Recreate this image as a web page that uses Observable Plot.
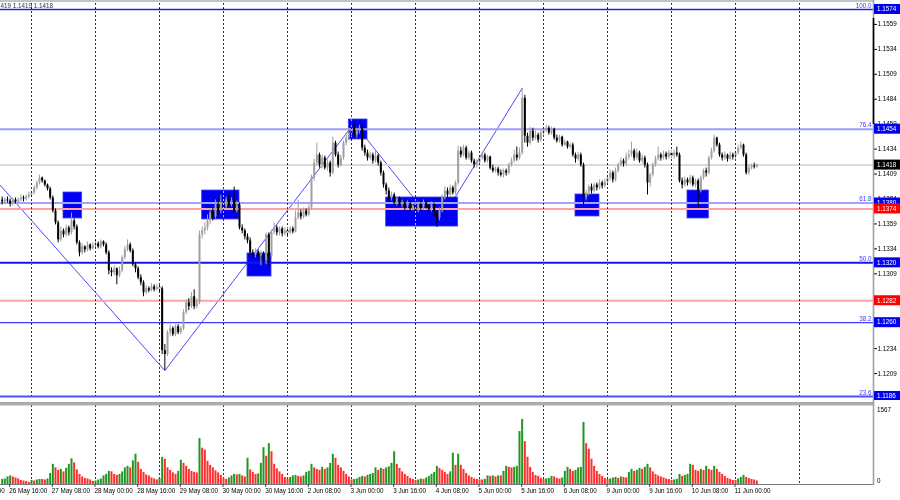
<!DOCTYPE html>
<html>
<head>
<meta charset="utf-8">
<script src="https://cdn.jsdelivr.net/npm/d3@7"></script>
<script src="https://cdn.jsdelivr.net/npm/@observablehq/plot@0.6"></script>
<style>
html,body{margin:0;padding:0;background:#fff;}
#wrap{width:900px;height:500px;position:relative;overflow:hidden;background:#fff;}
#wrap svg{display:block;}
</style>
</head>
<body>
<div id="wrap"></div>
<script>
// ================= DATA =================
// H1 bars, index k counted from 27 May 00:00 (k = 0); first visible bar = 26 May 13:00
const firstBar = -11;
// prices in pips above 1.1000 (e.g. 381 = 1.1381)
const opens = [
383,381,383,382,379,383,381,383,385,384,386,
388,390,395,400,405,402,398,394,385,372,360,343,352,348,355,350,362,356,340,330,336,333,338,334,
337,339,336,341,338,330,312,310,314,307,312,325,333,338,332,318,314,305,300,290,294,292,296,293,
295,294,232,228,250,254,248,256,250,254,270,280,276,286,276,280,348,352,355,362,370,366,378,372,
380,376,383,378,382,372,378,355,352,346,342,330,328,331,327,329,322,348,326,351,355,350,354,349,
352,350,354,351,365,370,366,372,368,375,405,420,428,418,425,415,420,410,440,428,418,425,440,445,
450,455,448,452,455,435,430,425,428,422,427,420,410,398,392,385,388,380,384,378,380,376,379,374,
377,372,378,375,380,376,373,378,370,365,372,385,392,388,395,390,400,432,428,435,425,430,422,418,
420,425,428,422,426,415,412,414,410,408,412,410,418,422,428,425,430,485,447,440,452,445,448,443,
450,453,455,450,454,445,442,446,438,441,436,438,428,424,428,418,385,390,396,392,398,395,400,397,
401,405,410,403,412,418,422,419,426,428,432,425,430,422,425,418,400,408,418,424,428,425,429,426,
430,427,430,428,402,398,403,400,405,398,402,392,405,412,410,425,432,445,438,428,425,428,424,428,
426,430,435,438,428,410,415,417,416];
const highs = [
386,385,386,384,385,385,385,388,387,388,391,
392,397,402,408,406,403,399,396,387,374,362,356,354,358,357,370,364,358,342,339,337,341,339,340,
342,341,343,342,340,332,315,317,315,316,327,336,343,340,334,320,316,308,302,297,296,299,298,298,
297,296,238,252,258,256,258,258,256,273,283,284,290,293,284,352,356,360,368,374,375,383,384,388,
384,386,388,385,396,382,380,358,354,349,345,333,334,333,332,331,350,350,353,360,357,356,356,355,
355,356,356,372,383,373,375,374,378,408,424,440,430,428,427,423,422,446,442,431,428,442,448,455,
460,461,455,458,457,438,433,431,430,433,429,422,412,400,395,391,390,386,386,383,382,382,381,380,
379,381,380,383,382,378,381,380,372,375,388,396,395,398,397,402,437,436,438,437,432,432,424,423,
427,431,430,428,427,418,416,416,413,414,414,420,425,433,436,435,495,488,450,456,455,452,450,453,
456,458,457,456,455,448,448,447,443,442,440,440,430,431,430,420,393,398,399,400,400,403,402,404,
408,413,412,415,420,425,424,430,433,441,434,434,432,428,427,420,410,420,427,436,430,432,431,433,
432,433,436,430,405,406,405,408,407,404,404,407,414,415,427,435,448,446,440,430,431,429,431,430,
432,438,441,439,430,418,419,420,419];
const lows = [
378,379,380,376,377,379,380,381,381,382,384,
386,388,393,398,400,396,392,383,370,358,340,341,345,346,347,348,353,338,326,328,330,331,332,333,
335,334,334,336,328,308,306,307,298,305,310,323,331,330,316,310,303,297,286,288,290,291,291,292,
291,228,212,226,246,246,246,248,248,252,268,272,274,273,274,278,344,348,352,358,362,364,368,369,
372,374,375,376,370,370,353,349,343,339,328,324,325,324,317,318,318,316,324,348,347,347,346,347,
347,348,349,350,363,363,364,366,366,373,402,417,415,414,413,412,406,408,426,415,416,423,437,442,
447,446,445,449,432,427,422,423,419,420,417,407,395,388,382,382,378,377,376,375,372,374,371,372,
369,370,372,373,374,370,371,366,356,362,370,383,385,386,388,388,398,425,426,423,423,420,415,415,
418,423,420,420,413,410,410,407,406,405,407,408,416,420,422,423,428,440,436,438,442,443,440,441,
448,451,448,448,443,440,440,436,437,434,434,426,420,422,416,376,382,387,389,390,392,393,394,395,
398,402,400,401,410,416,416,417,423,426,422,423,420,419,415,388,396,406,416,422,422,423,423,424,
425,424,426,400,394,396,397,398,396,395,375,390,403,406,408,423,430,436,426,422,423,421,422,423,
424,428,433,426,408,408,413,414,415];
const closes = [
381,383,382,379,383,381,383,385,384,386,388,
390,395,400,405,402,398,394,385,372,360,343,352,348,355,350,362,356,340,330,336,333,338,334,337,
339,336,341,338,330,312,310,314,307,312,325,333,338,332,318,314,305,300,290,294,292,296,293,295,
294,232,228,250,254,248,256,250,254,270,280,276,286,276,280,348,352,355,362,370,366,378,372,380,
376,383,378,382,372,378,355,352,346,342,330,328,331,327,329,322,348,326,351,355,350,354,349,352,
350,354,351,365,370,366,372,368,375,405,420,428,418,425,415,420,410,440,428,418,425,440,445,450,
455,448,452,455,435,430,425,428,422,427,420,410,398,392,385,388,380,384,378,380,376,379,374,377,
372,378,375,380,376,373,378,370,365,372,385,392,388,395,390,400,432,428,435,425,430,422,418,420,
425,428,422,426,415,412,414,410,408,412,410,418,422,428,425,430,485,447,440,452,445,448,443,450,
453,455,450,454,445,442,446,438,441,436,438,428,424,428,418,385,390,396,392,398,395,400,397,401,
405,410,403,412,418,422,419,426,428,432,425,430,422,425,418,400,408,418,424,428,425,429,426,430,
427,430,428,402,398,403,400,405,398,402,392,405,412,410,425,432,445,438,428,425,428,424,428,426,
430,435,438,428,410,415,417,416,418];
// tick volumes
const volumes = [
100,110,150,170,150,130,110,80,70,60,40,
80,70,90,100,100,90,110,220,400,330,280,300,250,320,400,510,430,290,200,150,120,110,90,60,
70,90,110,170,200,260,250,200,180,200,250,330,360,330,470,600,440,300,240,190,170,130,110,90,
120,540,500,330,280,230,200,260,480,420,360,300,260,240,230,910,720,680,460,380,330,270,230,180,
120,100,130,170,200,190,200,170,150,520,290,240,200,210,420,730,560,810,650,400,310,250,200,140,
110,140,170,180,160,150,170,240,260,400,330,300,280,340,300,330,420,600,520,380,330,260,200,150,
90,100,110,140,160,150,180,200,220,330,280,320,300,330,350,420,650,400,320,250,200,160,120,100,
80,90,110,100,130,160,200,240,360,320,280,240,200,250,620,380,600,380,300,220,170,140,110,100,
90,90,100,170,160,170,150,170,170,260,360,340,330,340,360,1050,1290,850,540,340,240,180,160,120,
100,110,120,160,150,120,110,130,260,340,300,260,280,330,340,1230,810,700,500,360,260,200,160,120,
100,110,130,140,120,150,140,130,240,300,260,280,320,300,340,400,330,250,200,170,150,130,110,100,
80,90,100,200,160,180,200,400,380,280,260,300,280,360,300,280,360,300,240,200,160,120,100,80,
80,110,140,180,140,120,100,90,70];

// daily period separators (bar index of each midnight)
const separatorK = [0,24,48,72,96,120,144,168,192,216,240,264,288];
// time axis labels
const timeLabelK = [-24,-8,8,24,40,56,72,88,104,120,136,152,168,184,200,216,232,248,264];
const timeLabels = ["26 May 00:00","26 May 16:00","27 May 08:00","28 May 00:00","28 May 16:00","29 May 08:00",
  "30 May 00:00","30 May 16:00","2 Jun 08:00","3 Jun 00:00","3 Jun 16:00","4 Jun 08:00","5 Jun 00:00",
  "5 Jun 16:00","6 Jun 08:00","9 Jun 00:00","9 Jun 16:00","10 Jun 08:00","11 Jun 00:00"];
// price axis ticks
const priceTicks = [1.1559,1.1534,1.1509,1.1484,1.1459,1.1434,1.1409,1.1384,1.1359,1.1334,1.1309,1.1284,1.1259,1.1234,1.1209,1.1184];
// fibonacci levels
const fibPrices = [1.1574,1.1454,1.1380,1.1320,1.1260,1.1186];
const fibNames  = ["100.0","76.4","61.8","50.0","38.2","23.6"];
// other horizontal levels
const redLevels = [1.1374,1.1282];
const lastPrice = 1.1418;
const headerText = "1.1419 1.1419 1.1419 1.1418";
// zigzag trend lines (bar index, price)
const zigK = [-12,50,121,152,184];
const zigP = [1.13985,1.1212,1.1460,1.1356,1.1495];
// blue zones (bar index from-to, price top-bottom)
const zoneK1 = [12,64,81,119,133,204,246];
const zoneK2 = [19,78,90,126,160,213,254];
const zoneP1 = [1.13905,1.13925,1.13294,1.14637,1.13855,1.13885,1.13925];
const zoneP2 = [1.13645,1.13635,1.13063,1.14437,1.13564,1.13665,1.13645];
const volMax = 1567;

// ================= BUILD =================
const P = v => 1.1 + v / 10000;
const bars = opens.map((o, i) => {
  const O = P(o), C = P(closes[i]);
  return {k: firstBar + i, o: O, c: C,
    h: Math.max(P(highs[i]), O, C), l: Math.min(P(lows[i]), O, C),
    up: closes[i] >= o, v: volumes[i],
    vup: i === 0 ? true : volumes[i] > volumes[i - 1]};
});
const zig = zigK.map((k, i) => ({k, p: zigP[i]}));
const zones = zoneK1.map((k, i) => ({k1: k, k2: zoneK2[i], p1: zoneP1[i], p2: zoneP2[i]}));
const xLab = timeLabelK.map((k, i) => ({k, t: timeLabels[i]}));
const fibs = fibPrices.map((p, i) => ({p, t: fibNames[i]}));

const FONT = '"Liberation Sans", Arial, sans-serif';
const FS = 6.3;
const xDomain = [-11.625, 315.75];
const bull = "#a0a0a0", bear = "#000000";
const gridOpts = {stroke: "#c8c8c8", strokeWidth: 1, strokeDasharray: "2,2", mixBlendMode: "difference"};

const hlines = [
  {p: 1.1574, color: "#2626d6", w: 1.6},
  {p: 1.1454, color: "#9c9cff", w: 2},
  {p: lastPrice, color: "#d9d9d9", w: 2},
  {p: 1.1380, color: "#a3a3ff", w: 2},
  {p: redLevels[0], color: "#ffa2a2", w: 2},
  {p: 1.1320, color: "#1414f0", w: 2},
  {p: redLevels[1], color: "#ffa2a2", w: 2},
  {p: 1.1260, color: "#3c3cff", w: 1.2},
  {p: 1.1186, color: "#5050ff", w: 2}
];

const main = Plot.plot({
  width: 900, height: 400,
  marginLeft: 0, marginRight: 27, marginTop: 3, marginBottom: 2,
  style: {fontFamily: FONT, fontSize: FS + "px", background: "#fff", color: "#000"},
  x: {domain: xDomain, axis: null},
  y: {domain: [1.1184, 1.1580], axis: null},
  marks: [
    Plot.line(zig, {x: "k", y: "p", stroke: "#4a4aff", strokeWidth: 1, clip: true}),
    Plot.rect(zones, {x1: "k1", x2: "k2", y1: "p1", y2: "p2", fill: "#0000f2", stroke: "#3a3aff", strokeWidth: 0.8}),
    ...hlines.map(h => Plot.ruleY([h.p], {stroke: h.color, strokeWidth: h.w})),
    Plot.text(fibs, {y: "p", text: "t", frameAnchor: "right", textAnchor: "end", dx: -2, dy: -4, fill: "#3a3aff", fontSize: FS}),
    Plot.ruleX(bars, {x: "k", y1: "l", y2: "h", stroke: d => d.up ? bull : bear, strokeWidth: 1}),
    Plot.ruleX(bars, {x: "k", y1: "o", y2: "c", stroke: d => d.up ? bull : bear, strokeWidth: 2}),
    Plot.ruleX(separatorK, {x: d => d, ...gridOpts}),
    Plot.axisY({anchor: "right", ticks: priceTicks, tickFormat: d => d.toFixed(4), tickSize: 3, tickPadding: 1, label: null, fontSize: FS})
  ]
});

const vol = Plot.plot({
  width: 900, height: 100,
  marginLeft: 0, marginRight: 27, marginTop: 5, marginBottom: 16,
  style: {fontFamily: FONT, fontSize: FS + "px", background: "#fff", color: "#000"},
  x: {domain: xDomain, axis: null},
  y: {domain: [0, volMax], axis: null},
  marks: [
    Plot.ruleX(bars.filter(d => d.vup), {x: "k", y1: 0, y2: "v", stroke: "#239523", strokeWidth: 2}),
    Plot.ruleX(bars.filter(d => !d.vup), {x: "k", y1: 0, y2: "v", stroke: "#ff2e2e", strokeWidth: 2}),
    Plot.ruleX(separatorK, {x: d => d, ...gridOpts}),
    Plot.text(xLab, {x: "k", text: "t", frameAnchor: "bottom", textAnchor: "start", dx: -1, dy: 8, fill: "#000", fontSize: FS})
  ]
});

const wrap = document.getElementById("wrap");
wrap.appendChild(main);
wrap.appendChild(vol);

// ---- chart furniture drawn with the plots' own scales ----
const ys = main.scale("y");
const sm = d3.select(main);
const AX = 873;
const txt = (sel, x, y, s, fill) => sel.append("text").attr("x", x).attr("y", y)
  .attr("text-anchor", "start").attr("fill", fill || "#000")
  .style("font-family", FONT).style("font-size", FS + "px").text(s);
sm.append("line").attr("x1", 0).attr("x2", AX).attr("y1", 1).attr("y2", 1).attr("stroke", "#8a8a8a").attr("stroke-width", 1.2);
sm.append("line").attr("x1", AX + 0.5).attr("x2", AX + 0.5).attr("y1", 0).attr("y2", 400).attr("stroke", "#a0a0a0").attr("stroke-width", 1.6);
sm.append("line").attr("x1", AX + 0.5).attr("x2", AX + 0.5).attr("y1", 18).attr("y2", 124).attr("stroke", "#000").attr("stroke-width", 1.6);
txt(sm, 53, 7.5, headerText, "#333").attr("text-anchor", "end");
const boxes = [
  [fibPrices[0], "#0000f0"], [fibPrices[1], "#0000f0"], [lastPrice, "#000"], [fibPrices[2], "#0000f0"],
  [redLevels[0], "#ff0000"], [fibPrices[3], "#0000f0"], [redLevels[1], "#ff0000"], [fibPrices[4], "#0000f0"], [fibPrices[5], "#0000f0"]
];
boxes.forEach(([p, c]) => {
  const y = ys.apply(p);
  sm.append("rect").attr("x", AX + 1).attr("y", y - 5).attr("width", 27).attr("height", 10).attr("fill", c);
  txt(sm, AX + 4, y + 2.3, p.toFixed(4), "#fff");
});

const vy = vol.scale("y"), vx = vol.scale("x");
const sv = d3.select(vol);
sv.append("line").attr("x1", 0).attr("x2", AX + 1).attr("y1", 3).attr("y2", 3).attr("stroke", "#555").attr("stroke-width", 1);
sv.append("line").attr("x1", 0).attr("x2", AX + 1).attr("y1", 4.6).attr("y2", 4.6).attr("stroke", "#b0b0b0").attr("stroke-width", 1.6);
sv.append("line").attr("x1", 0).attr("x2", AX + 1).attr("y1", vy.apply(0) + 0.5).attr("y2", vy.apply(0) + 0.5).attr("stroke", "#7a7a7a").attr("stroke-width", 1);
sv.append("line").attr("x1", AX + 0.5).attr("x2", AX + 0.5).attr("y1", 0).attr("y2", vy.apply(0) + 1).attr("stroke", "#a0a0a0").attr("stroke-width", 1.6);
txt(sv, AX + 4, vy.apply(volMax) + 6.5, String(volMax));
txt(sv, AX + 4, vy.apply(0) - 1, "0");
timeLabelK.forEach(k => {
  const x = vx.apply(k);
  sv.append("line").attr("x1", x).attr("x2", x).attr("y1", vy.apply(0)).attr("y2", vy.apply(0) + 3).attr("stroke", "#444").attr("stroke-width", 1);
});
</script>
</body>
</html>
